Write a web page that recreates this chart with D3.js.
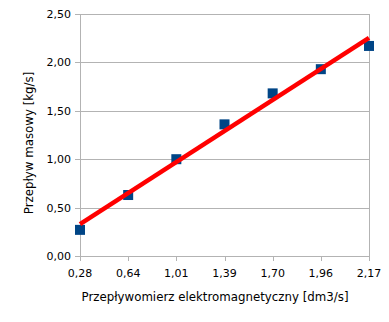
<!DOCTYPE html>
<html>
<head>
<meta charset="utf-8">
<script src="https://cdn.jsdelivr.net/npm/d3@7"></script>
<style>
  body { margin: 0; background: #fff; }
  text { font-family: "DejaVu Sans", sans-serif; fill: #000; }
</style>
</head>
<body>
<script>
// categories on x (flow meter readings) and measured mass flow
const categories = ["0,28", "0,64", "1,01", "1,39", "1,70", "1,96", "2,17"];
const massFlow = [0.27, 0.63, 1.00, 1.36, 1.68, 1.93, 2.17];
const yTicks = [0, 0.5, 1, 1.5, 2, 2.5];

const width = 389, height = 322;
const margin = {top: 14, right: 20, bottom: 66, left: 80};

const svg = d3.select("body").append("svg")
  .attr("width", width)
  .attr("height", height);

const x = d3.scalePoint()
  .domain(categories)
  .range([margin.left, width - margin.right]);

const y = d3.scaleLinear()
  .domain([0, 2.5])
  .range([height - margin.bottom, margin.top]);

const fmt = d => d3.format(".2f")(d).replace(".", ",");

// gridlines
svg.append("g")
  .selectAll("line")
  .data(yTicks)
  .enter().append("line")
  .attr("x1", margin.left - 5)
  .attr("x2", width - margin.right)
  .attr("y1", d => Math.round(y(d)) + 0.5)
  .attr("y2", d => Math.round(y(d)) + 0.5)
  .attr("stroke", "#b3b3b3");

// left and right border
[margin.left, width - margin.right].forEach(function(px) {
  svg.append("line")
    .attr("x1", px + 0.5).attr("x2", px + 0.5)
    .attr("y1", margin.top).attr("y2", height - margin.bottom)
    .attr("stroke", "#b3b3b3");
});

// x ticks
svg.append("g")
  .selectAll("line")
  .data(categories)
  .enter().append("line")
  .attr("x1", d => Math.round(x(d)) + 0.5)
  .attr("x2", d => Math.round(x(d)) + 0.5)
  .attr("y1", height - margin.bottom)
  .attr("y2", height - margin.bottom + 5)
  .attr("stroke", "#b3b3b3");

svg.append("g")
  .selectAll("text")
  .data(categories)
  .enter().append("text")
  .attr("x", d => x(d))
  .attr("y", height - margin.bottom + 21)
  .attr("text-anchor", "middle")
  .attr("font-size", 11)
  .text(d => d);

svg.append("g")
  .selectAll("text")
  .data(yTicks)
  .enter().append("text")
  .attr("x", margin.left - 9)
  .attr("y", d => y(d) + 4)
  .attr("text-anchor", "end")
  .attr("font-size", 11)
  .text(fmt);

// axis titles
svg.append("text")
  .attr("x", 215)
  .attr("y", 301)
  .attr("text-anchor", "middle")
  .attr("font-size", 11.8)
  .text("Przepływomierz elektromagnetyczny [dm3/s]");

svg.append("text")
  .attr("transform", "translate(33,143) rotate(-90)")
  .attr("text-anchor", "middle")
  .attr("font-size", 11.8)
  .text("Przepływ masowy [kg/s]");

// points
svg.append("g")
  .selectAll("rect")
  .data(massFlow)
  .enter().append("rect")
  .attr("x", (d, i) => x(categories[i]) - 5)
  .attr("y", d => y(d) - 5)
  .attr("width", 10)
  .attr("height", 10)
  .attr("fill", "#004586");

// linear trend line (least squares over category index)
const n = massFlow.length;
const mx = d3.mean(massFlow, (d, i) => i);
const my = d3.mean(massFlow);
const slope = d3.sum(massFlow, (d, i) => (i - mx) * (d - my)) / d3.sum(massFlow, (d, i) => (i - mx) * (i - mx));
const intercept = my - slope * mx;

svg.append("line")
  .attr("x1", x(categories[0]))
  .attr("y1", y(intercept))
  .attr("x2", x(categories[n - 1]))
  .attr("y2", y(intercept + slope * (n - 1)))
  .attr("stroke", "#ff0000")
  .attr("stroke-width", 4.5);
</script>
</body>
</html>
